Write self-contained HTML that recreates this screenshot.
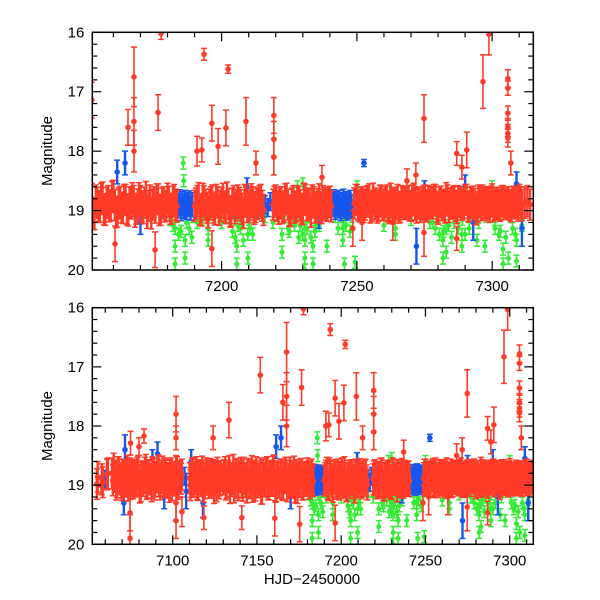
<!DOCTYPE html>
<html>
<head>
<meta charset="utf-8">
<style>
  html,body{margin:0;padding:0;background:#fff;}
  svg{display:block;}
  text{font-family:"Liberation Sans",sans-serif;fill:#000;}
</style>
</head>
<body>
<svg id="chart" width="600" height="600" viewBox="0 0 600 600">
  <defs>
    <clipPath id="clipTop"><rect x="92.3" y="32.3" width="441" height="237.7"/></clipPath>
    <clipPath id="clipBot"><rect x="92.3" y="307.7" width="441" height="236.6"/></clipPath>
  </defs>
  <g id="panelTop"></g>
  <g id="panelBot"></g>
  <text x="52" y="151" font-size="15" text-anchor="middle" transform="rotate(-90 52 151)">Magnitude</text>
  <text x="52" y="426" font-size="15" text-anchor="middle" transform="rotate(-90 52 426)">Magnitude</text>
  <text x="312" y="584" font-size="15" text-anchor="middle">HJD−2450000</text>
</svg>
<script>
// ---- data ----
const redBandRanges=[[7055,7055],[7058,7058],[7061,7061],[7064,7105],[7110,7128],[7130,7183],[7190,7215],[7219,7240],[7249,7314]];
const redBandMags=[18.98,18.90,18.82,
18.80,18.72,18.86,18.95,18.78,18.88,19.00,18.84,18.92,18.76,18.90,18.98,18.82,18.87,18.94,18.79,18.91,19.02,18.85,18.88,18.74,18.96,18.83,18.90,18.78,18.99,18.86,18.81,18.93,18.88,18.77,18.95,18.84,18.90,19.03,18.80,18.87,18.92,18.76,18.98,18.85,18.89,
18.88,18.95,18.82,18.90,18.78,19.00,18.86,18.93,18.84,18.97,18.80,18.91,18.87,18.96,18.83,18.89,19.02,18.85,18.92,
18.90,18.78,18.96,18.84,19.05,18.88,18.74,18.93,18.81,19.00,18.86,18.95,18.79,18.90,19.04,18.83,18.97,18.76,18.89,19.01,18.85,18.92,18.80,19.06,18.87,18.94,18.78,18.99,18.84,18.91,18.75,19.03,18.88,18.95,18.82,18.98,18.86,18.79,19.02,18.90,18.84,18.96,18.77,18.92,19.05,18.86,18.81,18.99,18.88,18.93,18.80,18.97,18.85,18.90,
18.92,18.84,18.98,18.80,18.90,19.03,18.86,18.95,18.82,18.99,18.87,18.93,18.78,19.01,18.88,18.96,18.83,18.91,19.04,18.85,18.94,18.81,18.97,18.89,18.84,18.92,
18.90,18.83,18.97,18.86,18.93,18.80,19.00,18.88,18.95,18.84,18.91,18.98,18.82,18.89,19.02,18.86,18.94,18.81,18.96,18.87,18.92,18.85,
18.88,18.82,18.93,18.86,18.90,18.84,18.95,18.80,18.89,18.92,18.85,18.91,18.83,18.96,18.87,18.90,18.82,18.94,18.86,18.89,18.84,18.92,18.80,18.95,18.87,18.90,18.83,18.93,18.86,18.88,18.82,18.97,18.85,18.91,18.79,18.94,18.88,18.84,18.96,18.86,18.90,18.82,18.93,18.87,18.85,18.98,18.83,18.91,18.88,18.86,18.94,18.81,18.90,18.87,18.92,18.84,18.89,18.86,18.93,18.85,18.88,18.82,18.91,18.87,18.84,18.90];
// second nightly visit (half day later)
const redBand2Mags=[18.86,18.95,18.80,
18.92,18.84,18.99,18.78,18.90,18.96,18.82,18.94,18.86,19.01,18.80,18.88,18.97,18.83,18.91,18.76,19.04,18.87,18.93,18.79,18.98,18.85,18.90,19.02,18.81,18.94,18.87,18.75,18.99,18.84,18.92,18.80,18.96,18.88,18.83,19.00,18.86,18.91,18.78,18.95,18.89,18.82,
19.00,18.80,18.94,18.86,18.98,18.83,18.90,18.77,19.03,18.88,18.84,18.96,18.81,18.92,19.05,18.86,18.79,18.97,18.85,
18.83,18.99,18.87,18.76,18.93,18.90,19.04,18.82,18.96,18.85,18.79,19.01,18.88,18.94,18.81,18.97,18.86,19.03,18.84,18.78,18.95,18.89,19.06,18.83,18.92,18.80,18.98,18.87,18.93,18.77,18.91,19.02,18.85,18.96,18.82,19.00,18.88,18.84,18.97,18.79,18.93,18.87,19.04,18.83,18.90,18.95,18.81,18.99,18.86,18.92,
18.85,18.97,18.82,18.93,18.88,18.79,19.00,18.84,18.95,18.90,18.83,18.98,18.86,18.92,18.80,18.96,18.89,19.02,18.84,18.91,18.87,18.97,18.82,18.94,18.90,18.86,
18.94,18.87,18.82,18.99,18.85,18.92,18.88,18.96,18.81,18.90,19.01,18.84,18.93,18.86,18.97,18.80,18.91,18.88,18.83,18.95,18.89,18.94,
18.84,18.90,18.86,18.93,18.82,18.91,18.87,18.94,18.85,18.81,18.92,18.88,18.95,18.83,18.90,18.86,18.93,18.80,18.91,18.87,18.95,18.84,18.89,18.86,18.92,18.83,18.90,18.88,18.94,18.85,18.91,18.84,18.88,18.82,18.93,18.86,18.90,18.95,18.83,18.89,18.86,18.92,18.84,18.90,18.87,18.82,18.93,18.85,18.89,18.94,18.86,18.83,18.91,18.88,18.85,18.92,18.87,18.90,18.84,18.89,18.86,18.91,18.85,18.88,18.92,18.86];
const redBandErr=0.26;

const redOutDays=[7057.5,7074.7,7074.7,7075,7080,7083,7102,7102,7102,7102,7105.5,7118.5,7124,7133.4,7141,
7152,7160.6,7165.4,7167.6,7167.6,7167.6,7177.6,7176.5,7175.4,7193.5,7202.4,7196.4,7196.4,7201.6,7190.9,7192.7,7198.7,7209,7219.3,7219.3,7219.3,7212.7,
7274.8,7274.8,7296.6,7298.8,7305.8,7305.8,7305.8,7305.8,7305.8,7305.8,7306.9,7286.9,7290.6,7288.8,7271.8,7268.5,7237.1,7248.5,7251.9,7263.3,7286.9];
const redOutMags=[19.0,19.47,19.9,18.29,18.35,18.17,17.8,18.2,19.3,19.6,19.45,19.55,18.2,17.9,19.55,
17.14,19.56,17.6,16.75,17.5,18.0,16.02,17.35,19.66,16.37,16.62,17.53,19.64,17.61,18.0,17.98,17.92,17.5,17.4,17.8,18.1,18.2,
17.45,19.37,16.83,16.03,16.78,16.94,17.36,17.6,17.7,17.78,18.2,18.04,17.98,18.27,18.4,18.5,18.44,19.3,19.2,19.2,19.47];
const redOutErrs=[0.15,0.3,0.4,0.2,0.15,0.12,0.3,0.2,0.3,0.3,0.25,0.2,0.2,0.3,0.2,
0.3,0.3,0.3,0.5,0.4,0.35,0.1,0.3,0.3,0.1,0.07,0.3,0.3,0.3,0.25,0.2,0.3,0.4,0.3,0.3,0.3,0.2,
0.4,0.4,0.45,0.35,0.15,0.12,0.12,0.15,0.15,0.15,0.2,0.2,0.3,0.2,0.2,0.2,0.2,0.3,0.3,0.3,0.2];

const blueDays=[7184,7184.5,7185,7185.5,7186,7186.5,7187,7187.5,7188,7188.5,7189,
7241,7241.5,7242,7242.5,7243,7243.5,7244,7244.5,7245,7245.5,7246,7246.5,7247,7247.5,7248,
7060,7071.7,7071,7088,7091,7095,7108,7107,7111,7118,7129,7129.5,7150,7161.4,7164.3,7170,7209.4,7216,7217,7218,7236,7252.6,7272,7275,7290,7293,7300,7309,7311];
const blueMags=[18.92,18.85,18.97,18.88,18.93,18.86,18.95,18.90,18.87,18.96,18.90,
18.90,18.85,18.95,18.88,18.92,18.86,18.97,18.90,18.84,18.93,18.88,18.96,18.90,18.86,18.93,
18.9,18.4,19.3,18.55,18.47,19.2,19.1,18.85,18.6,19.3,18.95,18.85,18.9,18.35,18.2,19.2,18.6,18.9,18.95,18.85,19.1,18.2,19.6,18.7,18.6,19.2,18.95,18.55,19.3];
const blueErrs=[0.2,0.2,0.2,0.2,0.2,0.2,0.2,0.2,0.2,0.2,0.2,
0.2,0.2,0.2,0.2,0.2,0.2,0.2,0.2,0.2,0.2,0.2,0.2,0.2,0.2,0.2,
0.15,0.25,0.2,0.15,0.2,0.2,0.3,0.15,0.2,0.25,0.15,0.15,0.15,0.2,0.2,0.2,0.15,0.15,0.15,0.15,0.2,0.06,0.3,0.2,0.2,0.3,0.15,0.2,0.3];

const greenDays=[7181,7183,7187,7190,7193,7197,7200,7203,7206,7210,7213,7216,7219,7223,7226,7229,7232,7235,7238,7242,7245,7248,7251,7255,7258,7262,7266,7270,7274,7277,7280,7283,7286,7289,7292,7295,7298,7301,7304,7307,7310,7313,
7185.8,7186,7230,7228,7250,7286,7300,7262,
7182.8,7182.8,7182.8,7186.5,7186.5,7195,7195,7205.6,7205.6,7209.7,7209.7,7207.6,7222.3,7222.3,7224.6,7230.8,7230.8,7230.8,7230.8,7233.8,7233.8,7238.9,7244.8,7244.8,7249.3,7245.4,7260,7264.2,7264.2,7278,7281.8,7281.8,7283,7288.8,7288.8,7294.4,7297.3,7304,7304,7306,7309,7309,
7182,7184,7185,7188,7189,7191,7204,7205,7207,7208,7210.5,7211.5,7225,7227,7228.5,7230,7231.5,7233,7234.5,7236,7243,7246,7247.5,7279,7280.5,7282,7284,7285,7287.5,7290,7291.5,7301,7302.5,7303,7305,7307.5,7308.5,7311];
const greenMags=[19.15,19.1,19.2,19.1,19.15,19.05,19.2,19.1,19.25,19.15,19.05,19.1,19.2,19.1,19.15,19.25,19.1,19.2,19.05,19.1,19.15,19.1,19.05,19.1,19.0,19.1,19.05,19.15,19.1,19.2,19.1,19.3,19.2,19.15,19.1,19.2,19.1,19.15,19.05,19.1,18.95,18.9,
18.2,18.5,18.55,18.6,18.6,18.7,18.6,18.7,
19.3,19.6,19.9,19.5,19.8,19.3,19.5,19.6,19.9,19.8,19.4,19.2,19.4,19.7,19.3,19.5,19.8,20.0,19.3,19.6,19.9,19.6,19.5,19.3,19.87,19.9,19.25,19.3,19.4,19.2,19.5,19.8,19.7,19.4,19.6,19.5,19.6,19.65,19.9,19.8,19.85,19.5,
19.25,19.4,19.35,19.3,19.45,19.2,19.35,19.45,19.3,19.5,19.3,19.4,19.35,19.25,19.45,19.4,19.3,19.45,19.35,19.25,19.3,19.25,19.35,19.3,19.4,19.35,19.25,19.45,19.3,19.4,19.3,19.3,19.4,19.35,19.45,19.3,19.4,19.25];
const greenErr=0.1;

const topXTicks=[7200,7250,7300];
const botXTicks=[7100,7150,7200,7250,7300];
const yTicks=[16,17,18,19,20];

// ---- drawing ----
const NS='http://www.w3.org/2000/svg';
const RED='#ff3b28', BLUE='#1656ee', GREEN='#35ec35';
function mk(tag,attrs,parent){const e=document.createElementNS(NS,tag);for(const k in attrs)e.setAttribute(k,attrs[k]);parent.appendChild(e);return e;}

const redBandDays=[];
redBandRanges.forEach(r=>{for(let d=r[0];d<=r[1];d++)redBandDays.push(d);});

function panel(gid,clip,xmin,xmax,top,bottom,xticks,name){
  const g=document.getElementById(gid);
  const L=92.3,R=533.3;
  const xs=d=>L+(d-xmin)/(xmax-xmin)*(R-L);
  const ys=m=>top+(m-16)/4*(bottom-top);
  const data=mk('g',{'clip-path':'url(#'+clip+')'},g);
  
  
  function pt(parent,d,m,e,col,r,sw,nm){
    const x=xs(d),y1=ys(m-e),y2=ys(m+e),y=ys(m);
    const grp=mk('g',{},parent);
    
    
    mk('line',{x1:x,y1:y1,x2:x,y2:y2,stroke:col,'stroke-width':sw},grp);
    mk('line',{x1:x-3,y1:y1,x2:x+3,y2:y1,stroke:col,'stroke-width':1.5},grp);
    mk('line',{x1:x-3,y1:y2,x2:x+3,y2:y2,stroke:col,'stroke-width':1.5},grp);
    mk('circle',{cx:x,cy:y,r:r,fill:col},grp);
  }
  const gG=mk('g',{},data);
  
  
  greenDays.forEach((d,i)=>{if(d>=xmin-2&&d<=xmax+2)pt(gG,d,greenMags[i],greenErr,GREEN,2.5,1.6,'green-point');});
  const gB=mk('g',{},data);
  
  
  blueDays.forEach((d,i)=>{if(d>=xmin-2&&d<=xmax+2)pt(gB,d,blueMags[i],blueErrs[i],BLUE,2.8,2.4,'blue-point');});
  const gR=mk('g',{},data);
  
  
  redBandDays.forEach((d,i)=>{if(i<redBandMags.length&&d>=xmin-2&&d<=xmax+2)pt(gR,d,redBandMags[i],redBandErr,RED,2.9,2.4,'red-point');});
  redBandDays.forEach((d,i)=>{const dd=d+0.5;if(i<redBand2Mags.length&&dd>=xmin-2&&dd<=xmax+2)pt(gR,dd,redBand2Mags[i],redBandErr,RED,2.9,2.4,'red-point');});
  redOutDays.forEach((d,i)=>{if(d>=xmin-2&&d<=xmax+2)pt(gR,d,redOutMags[i],redOutErrs[i],RED,2.8,1.6,'red-outlier');});
  const fr=mk('rect',{x:L,y:top,width:R-L,height:bottom-top,fill:'none',stroke:'#000','stroke-width':1.5},g);
  
  
  const ax=mk('g',{stroke:'#000','stroke-width':1.2},g);
  
  
  for(let d=Math.ceil(xmin/10)*10;d<=xmax;d+=10){
    const major=d%50===0, len=major?9:5, x=xs(d);
    mk('line',{x1:x,y1:bottom,x2:x,y2:bottom-len},ax);
    mk('line',{x1:x,y1:top,x2:x,y2:top+len},ax);
  }
  xticks.forEach(v=>{
    const t=mk('text',{x:xs(v),y:bottom+21,'font-size':15,'text-anchor':'middle'},g);
    t.textContent=v;
    
    
  });
  const ay=mk('g',{stroke:'#000','stroke-width':1.2},g);
  
  
  for(let k=0;k<=20;k++){
    const m=16+k*0.2, y=ys(m), len=(k%5===0)?9:5;
    mk('line',{x1:L,y1:y,x2:L+len,y2:y},ay);
    mk('line',{x1:R,y1:y,x2:R-len,y2:y},ay);
  }
  yTicks.forEach(v=>{
    const t=mk('text',{x:L-8,y:ys(v)+5,'font-size':15,'text-anchor':'end'},g);
    t.textContent=v;
    
    
  });
}
panel('panelTop','clipTop',7152.2,7315.2,32.3,270,topXTicks,'top');
panel('panelBot','clipBot',7052.3,7314,307.7,544.3,botXTicks,'bottom');
</script>
</body>
</html>
